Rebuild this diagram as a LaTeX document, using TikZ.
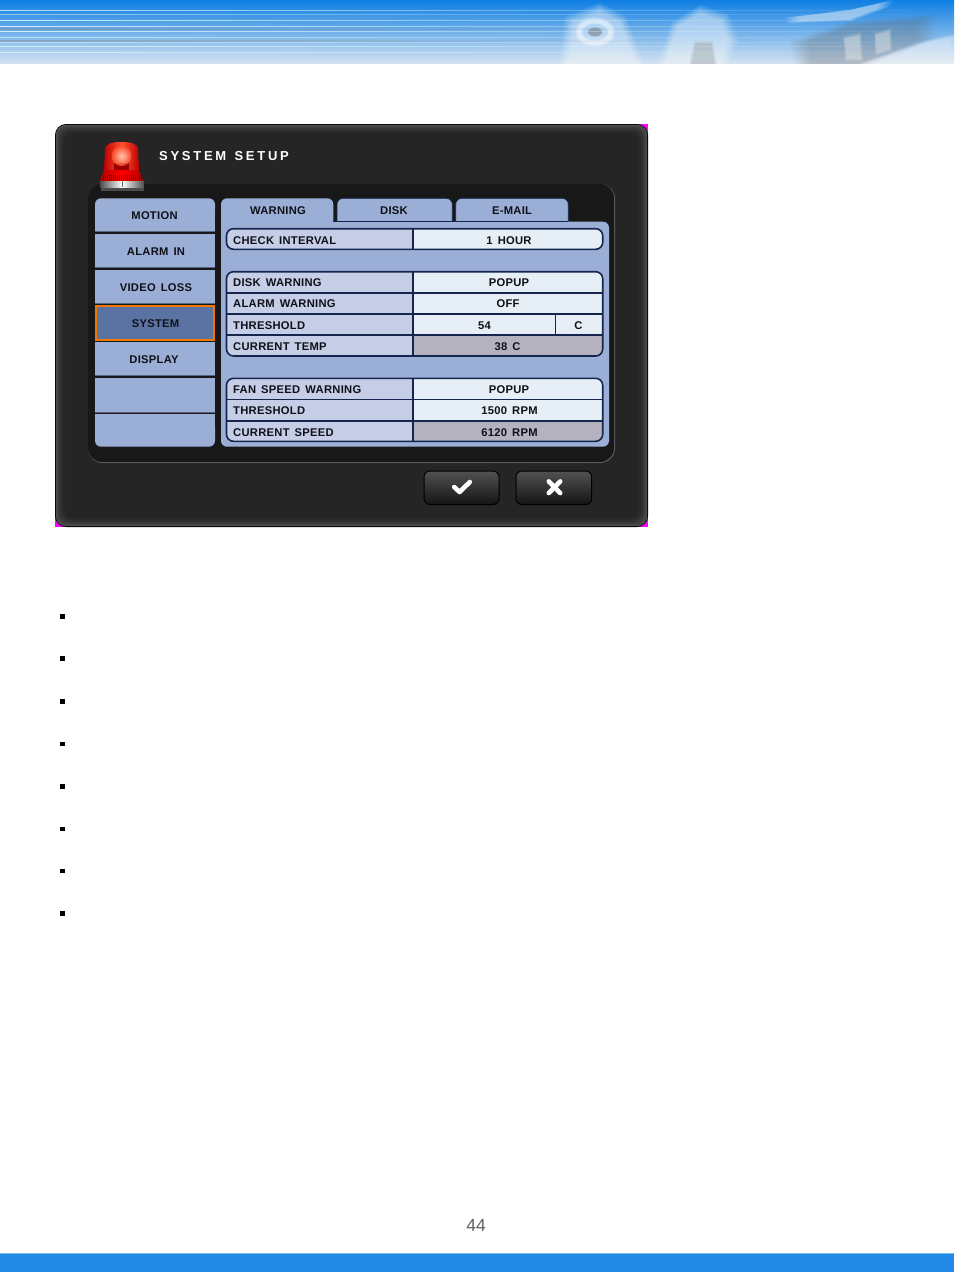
\documentclass[tikz,border=0pt]{standalone}
\usepackage{fontspec}
\setmainfont{Liberation Sans}
\newfontfamily\osdfont[LetterSpace=2.5,WordSpace=1.5]{Liberation Sans Bold}
\newfontfamily\osdtitle[LetterSpace=21,WordSpace=1.3]{Liberation Sans Bold}
\usetikzlibrary{fadings}
\tikzfading[name=midband,left color=transparent!100,middle color=transparent!0,right color=transparent!100]
\definecolor{bandtop}{HTML}{0F7FE3}
\definecolor{bandmid}{HTML}{5C9FE2}
\definecolor{bandlow}{HTML}{D3E2F1}
\definecolor{bandline}{HTML}{D8F4FA}
\definecolor{bandsteel}{HTML}{7FA3C8}
\definecolor{barblue}{HTML}{2389E6}
\definecolor{framepink}{HTML}{FF00FF}
\definecolor{frameface}{HTML}{252525}
\definecolor{frameedge}{HTML}{505050}
\definecolor{wellface}{HTML}{181818}
\definecolor{menublue}{HTML}{9BAFD6}
\definecolor{menuslate}{HTML}{586480}
\definecolor{menusel}{HTML}{5A73A3}
\definecolor{menuorange}{HTML}{F07800}
\definecolor{rowline}{HTML}{14264D}
\definecolor{labelfill}{HTML}{C5CEE6}
\definecolor{valuefill}{HTML}{E6EEF6}
\definecolor{greyfill}{HTML}{B5B2C0}
\definecolor{osdtext}{HTML}{101018}
\definecolor{domered}{HTML}{FF5230}
\tikzset{
  osd/.style={inner sep=0,text height=8.3,text depth=0,text=osdtext,font=\fontsize{11.2}{13}\osdfont},
  rowlabel/.style={osd,anchor=west},
  rowedge/.style={draw=rowline,line width=1.6},
  okbutton/.style={draw=black,line width=1,rounded corners=6,top color=black!68,bottom color=black!92},
  okmark/.style={draw=white,line cap=round,line join=round},
  photo/.style={fill=#1,opacity=0.08},
  photodark/.style={fill=black!60,opacity=0.045},
  bullet/.style={fill=black}
}
\begin{document}
\begin{tikzpicture}[x=1pt,y=-1pt]
\useasboundingbox (0,0) rectangle (954,1272);
\fill[white] (0,0) rectangle (954,1272);
% header band
\shade[top color=bandtop,middle color=bandmid,bottom color=bandlow] (0,0) rectangle (954,63);
\fill[bandsteel,opacity=0.7,path fading=midband] (530,0) rectangle (954,63);
% photo in the header
\begin{scope}
\clip (0,0) rectangle (954,63);
\foreach \s in {1.18,1.13,1.08,1.04,1,0.96,0.92,0.88}{
  \fill[photo=white,scale around={\s:(600,38)}] (565,66) -- (570,20) -- (600,8) -- (622,20) -- (640,66) -- cycle;
  \fill[photo=white,scale around={\s:(698,38)}] (662,66) -- (675,25) -- (700,10) -- (724,18) -- (732,40) -- (722,66) -- cycle;
  \fill[photo=white,scale around={\s:(840,14)}] (793,17) -- (850,10) -- (885,2) -- (882,8) -- (850,20) -- (795,22) -- cycle;
  \fill[photodark,scale around={\s:(860,42)}] (805,66) -- (800,42) -- (850,24) -- (925,18) -- (925,40) -- (860,66) -- cycle;
  \fill[photo=white,scale around={\s:(915,55)}] (855,66) -- (925,42) -- (954,36) -- (960,66) -- cycle;
  \fill[photodark,scale around={\s:(703,52)}] (690,66) -- (695,42) -- (712,42) -- (716,66) -- cycle;
  \fill[photo=white,scale around={\s:(852,50)}] (844,38) -- (860,34) -- (862,60) -- (846,60) -- cycle;
  \fill[photo=white,scale around={\s:(882,44)}] (875,34) -- (890,30) -- (891,50) -- (876,54) -- cycle;
}
\end{scope}
\draw[white,opacity=0.45,line width=5] (595,32) ellipse (16 and 11);
\draw[white,opacity=0.15,line width=9] (595,32) ellipse (16 and 11);
\fill[black!60,opacity=0.45] (595,32) ellipse (7 and 4.5);
% streaks across the band
\foreach \ya/\yb/\op in {9.6/10.8/0.8,14/15/0.55,20.2/21.4/0.9,26.2/27.4/0.9,31.2/32.4/0.9,36.8/37.8/0.7,42.2/43.2/0.6,45.6/46.8/0.9,51.6/52.8/0.85}{
  \fill[bandline,opacity=\op,path fading=east] (0,\ya) rectangle (954,\yb);
}
\foreach \ya/\yb in {28/30.2,40.2/42}{
  \fill[black!50,opacity=0.4,path fading=east] (0,\ya) rectangle (700,\yb);
}
% frame of the setup screen
\fill[framepink] (636,124) rectangle (648,136);
\fill[framepink] (55,515) rectangle (67,527);
\fill[framepink] (636,515) rectangle (648,527);
\fill[black,rounded corners=11] (55,124) rectangle (648,527);
\foreach \d/\mixv in {1/100,2/85,3/70,4/58,5/46,6/36,7/28,8/20,9/14,10/8,11/4,12/0}{
  \fill[frameedge!\mixv!frameface,rounded corners=10] (55+\d*0.8,124+\d*0.8) rectangle (648-\d*0.8,527-\d*0.8);
}
% dark well
\fill[black!62,rounded corners=15] (88,184) rectangle (615,463);
\fill[wellface,rounded corners=14] (88,184) rectangle (614,462);
% left menu
\fill[menublue,rounded corners=6] (95,198.3) rectangle (215,215);
\fill[menublue] (95,208) rectangle (215,231);
\fill[menublue] (95,234) rectangle (215,267);
\fill[menublue] (95,270) rectangle (215,303);
\fill[menusel,draw=menuorange,line width=2] (96,306) rectangle (214,339.5);
\fill[menublue] (95,342) rectangle (215,375);
\fill[menublue] (95,378) rectangle (215,412.5);
\fill[menublue] (95,414) rectangle (215,430);
\fill[menublue,rounded corners=6] (95,420) rectangle (215,446.7);
\foreach \ya in {230.6,266.6,302.6,374.6,412}{
  \fill[menuslate] (95,\ya) rectangle (215,\ya+0.8);
}
\node[osd] (motion) at (154.5,215) {MOTION};
\node[osd] (alarmin) at (156,251) {ALARM IN};
\node[osd] (videoloss) at (156,287) {VIDEO LOSS};
\node[osd] (system) at (155.5,323.5) {SYSTEM};
\node[osd] (display) at (154,359.5) {DISPLAY};
% tabs
\foreach \xa/\xb in {337/452.3,455.7/568.3}{
  \fill[menublue,draw=rowline,line width=0.7,rounded corners=6] (\xa,224) -- (\xa,198.3) -- (\xb,198.3) -- (\xb,224);
}
\fill[menublue,rounded corners=6] (221,224) -- (221,198.3) -- (333.3,198.3) -- (333.3,224);
\fill[menublue,rounded corners=6] (221,221.7) rectangle (609,446.7);
\fill[menublue] (221,215) rectangle (333.3,232);
\fill[rowline] (333.3,221) rectangle (568.3,221.9);
\fill[menublue] (221,218) rectangle (333.3,224);
\node[osd] (warning) at (278,210.5) {WARNING};
\node[osd] (disk) at (394,210.5) {DISK};
\node[osd] (email) at (512,210.5) {E-MAIL};
% setting rows
\begin{scope}
\clip[rounded corners=7] (226.5,228.7) rectangle (602.7,249.3);
\fill[labelfill] (226,228) rectangle (413,250);
\fill[valuefill] (413,228) rectangle (603,250);
\end{scope}
\begin{scope}
\clip[rounded corners=7] (226.5,271.7) rectangle (602.7,356);
\fill[labelfill] (226,271) rectangle (413,357);
\fill[valuefill] (413,271) rectangle (603,335);
\fill[greyfill] (413,335) rectangle (603,357);
\end{scope}
\begin{scope}
\clip[rounded corners=7] (226.5,378.3) rectangle (602.7,441.3);
\fill[labelfill] (226,378) rectangle (413,442);
\fill[valuefill] (413,378) rectangle (603,420.7);
\fill[greyfill] (413,420.7) rectangle (603,442);
\end{scope}
\draw[rowedge,rounded corners=7] (226.5,228.7) rectangle (602.7,249.3);
\draw[rowedge,rounded corners=7] (226.5,271.7) rectangle (602.7,356);
\draw[rowedge,rounded corners=7] (226.5,378.3) rectangle (602.7,441.3);
\foreach \ya/\yb in {228.7/249.3,271.7/356,378.3/441.3}{
  \draw[rowedge] (413,\ya) -- (413,\yb);
}
\foreach \ya in {292.7,314,335,399.3,420.7}{
  \draw[rowedge] (226.5,\ya) -- (602.7,\ya);
}
\draw[rowedge] (555.3,314) -- (555.3,335);
\node[rowlabel] (interval) at (233,240) {CHECK INTERVAL};
\node[osd] (intervalval) at (509,240) {1 HOUR};
\node[rowlabel] (diskwarn) at (233,282) {DISK WARNING};
\node[osd] (diskwarnval) at (509,282) {POPUP};
\node[rowlabel] (alarmwarn) at (233,303.5) {ALARM WARNING};
\node[osd] (alarmwarnval) at (508,303.5) {OFF};
\node[rowlabel] (thresh) at (233,325) {THRESHOLD};
\node[osd] (threshval) at (484.5,325) {54};
\node[osd] (threshunit) at (578.5,325) {C};
\node[rowlabel] (temp) at (233,346) {CURRENT TEMP};
\node[osd] (tempval) at (507.5,346) {38 C};
\node[rowlabel] (fanwarn) at (233,389) {FAN SPEED WARNING};
\node[osd] (fanwarnval) at (509,389) {POPUP};
\node[rowlabel] (fanthresh) at (233,410.5) {THRESHOLD};
\node[osd] (fanthreshval) at (509.5,410.5) {1500 RPM};
\node[rowlabel] (fanspeed) at (233,432) {CURRENT SPEED};
\node[osd] (fanspeedval) at (509.5,432) {6120 RPM};
% buttons
\draw[okbutton] (424,471) rectangle (499,504.5);
\draw[okbutton] (516,471) rectangle (591.7,504.5);
\draw[okmark,line width=4.6] (454.2,487) -- (459.6,492) -- (469.8,482);
\draw[okmark,line width=4.6] (548.8,481.4) -- (560.2,493);
\draw[okmark,line width=4.6] (560.2,481.4) -- (548.8,493);
% beacon and title
\fill[black!70] (101,187) rectangle (144,190.7);
\shade[left color=red!75!black,right color=red!75!black,middle color=domered] (104,170) -- (105,150) .. controls (105,143) and (113,142) .. (121.5,142) .. controls (130,142) and (138,143) .. (138,150) -- (139,170) -- cycle;
\fill[red!60!black] (114,163) rectangle (129,171);
\shade[inner color=white!85!orange,outer color=domered,opacity=0.75] (121.5,156) circle (10);
\shade[left color=red!70!black,right color=red!70!black,middle color=red] (104,170) -- (139,170) -- (143,181) -- (100,181) -- cycle;
\foreach \xr in {103,105,...,141}{
  \draw[red!50!black,line width=0.6] (\xr,175) -- (\xr,181);
}
\shade[left color=black!70,right color=black!70,middle color=white] (100,181) rectangle (144,187);
\draw[black!60,line width=0.8] (122,181) -- (122,187);
\node[anchor=west,inner sep=0,text height=9.3,text depth=0,text=white,font=\fontsize{13}{15}\osdtitle] (title) at (159,155.5) {SYSTEM SETUP};
% bullets of the page
\foreach \yb in {616.5,658.5,701.5,744,786.5,829,871,913.5}{
  \fill[bullet] (60,\yb-2.3) rectangle (64.6,\yb+2.3);
}
% foot of the page
\node[inner sep=0,text=black!62,font=\fontsize{17.5}{20}\selectfont] (pagenum) at (476,1225) {44};
\fill[barblue] (0,1254) rectangle (954,1272);
\fill[barblue!60!white] (0,1253.4) rectangle (954,1254.2);
\end{tikzpicture}
\end{document}
